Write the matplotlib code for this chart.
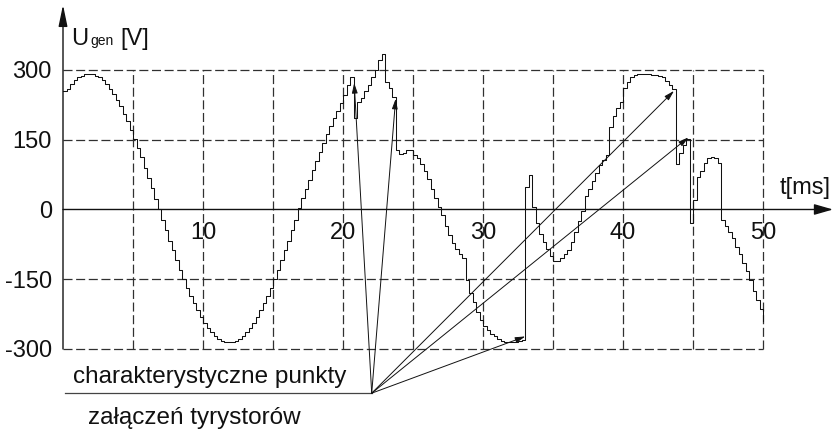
import numpy as np
import matplotlib
matplotlib.use("Agg")
import matplotlib.pyplot as plt

plt.rcParams["font.family"] = ["Liberation Sans", "DejaVu Sans"]
plt.rcParams["lines.scale_dashes"] = False

# generator voltage [V], one sample every 0.25 ms from 0 to 50 ms
T_STEP = 0.25
u_gen = [
    # 0 - 4.75 ms
    255, 260, 270, 278, 284, 288, 291, 292, 291, 288, 284, 278, 270, 260, 249, 236, 222, 206, 190, 172,
    # 5 - 9.75 ms
    152, 133, 112, 90, 68, 46, 23, 0, -22, -45, -67, -88, -109, -130, -149, -168, -186, -202, -217, -231,
    # 10 - 14.75 ms
    -244, -255, -264, -272, -278, -283, -285, -286, -285, -283, -278, -272, -264, -255, -244, -231, -217, -202, -186, -168,
    # 15 - 19.75 ms
    -149, -130, -109, -88, -67, -45, -22, 4, 24, 44, 64, 84, 104, 124, 143, 162, 180, 196, 212, 228,
    # 20 - 24.75 ms
    246, 268, 284, 196, 232, 240, 254, 268, 284, 300, 322, 334, 275, 262, 242, 128, 120, 121, 128, 128,
    # 25 - 29.75 ms
    118, 110, 98, 82, 66, 45, 25, 5, -12, -35, -55, -72, -85, -96, -104, -152, -180, -200, -220, -238,
    # 30 - 34.75 ms
    -250, -260, -267, -273, -278, -282, -284, -285, -285, -284, -283, -280, 48, 74, 5, -30, -52, -70, -86, -100,
    # 35 - 39.75 ms
    -110, -111, -105, -96, -88, -70, -48, -25, -3, 28, 45, 62, 78, 95, 106, 117, 178, 200, 218, 232,
    # 40 - 44.75 ms
    262, 275, 285, 290, 291, 291, 291, 291, 290, 289, 288, 285, 276, 268, 260, 98, 122, 138, 152, -28,
    # 45 - 50 ms
    20, 70, 82, 100, 111, 112, 111, 100, -22, -35, -48, -62, -80, -95, -115, -133, -152, -175, -195, -215, -240,
]

# thyristor firing points pointed at by the annotation arrows
fire_t = [20.8, 23.76, 33.02, 43.64, 44.67]
fire_u = [272, 238, -273, 255, 155]

x_ticks = [10, 20, 30, 40, 50]
y_ticks = [300, 150, 0, -150, -300]
x_grid = [5, 10, 15, 20, 25, 30, 35, 40, 45, 50]
y_grid = [-300, -150, 150, 300]

t_ms = np.arange(len(u_gen)) * T_STEP

fig = plt.figure(figsize=(8.34, 4.32), dpi=100)
ax = fig.add_axes([0, 0, 1, 1])
ax.set_xlim(-4.5, 55.07)
ax.set_ylim(-478.5, 450.5)
ax.axis("off")

ink = "#111111"
fs = 17
dash = (0, (6.5, 2.6))

# dashed grid
ax.vlines(x_grid, -300, 300, colors="#303030", linestyles=[dash], lw=0.9)
ax.hlines(y_grid, 0, 50, colors="#303030", linestyles=[dash], lw=0.9)

# axes with arrow heads
ax.annotate("", xy=(55.0, 0), xytext=(0, 0),
            arrowprops=dict(arrowstyle="-|>,head_length=1.15,head_width=0.33",
                            mutation_scale=10, lw=1.0, color=ink,
                            shrinkA=0, shrinkB=0))
ax.annotate("", xy=(0, 440), xytext=(0, -300),
            arrowprops=dict(arrowstyle="-|>,head_length=1.3,head_width=0.27",
                            mutation_scale=10, lw=1.0, color=ink,
                            shrinkA=0, shrinkB=0))

# tick labels
for v in y_ticks:
    ax.text(-0.79, v - 18, str(v), ha="right", va="baseline", fontsize=fs, color=ink)
for t in x_ticks:
    ax.text(t, -64.5, str(t), ha="center", va="baseline", fontsize=fs, color=ink)

# axis titles
ax.text(0.61, 353.8, "U", fontsize=fs, va="baseline", color=ink)
ax.text(1.95, 353.8, "gen", fontsize=10, va="baseline", color=ink)
ax.text(4.07, 353.8, "[V]", fontsize=fs, va="baseline", color=ink)
ax.text(51.21, 32.7, "t[ms]", fontsize=fs, va="baseline", color=ink)

# sampled waveform
ax.plot(t_ms, u_gen, drawstyle="steps-post", lw=0.75, color=ink)

# annotation: characteristic thyristor firing points
origin = (22.05, -395)
ax.plot([0.15, origin[0]], [origin[1], origin[1]], color="#444444", lw=0.9)
for tt, uu in zip(fire_t, fire_u):
    ax.annotate("", xy=(tt, uu), xytext=origin,
                arrowprops=dict(arrowstyle="-|>,head_length=0.6,head_width=0.17",
                                mutation_scale=10, lw=0.7, color=ink,
                                shrinkA=0, shrinkB=0))
ax.text(0.74, -372.5, "charakterystyczne punkty", fontsize=17.5, va="baseline", color=ink)
ax.text(1.81, -461.9, "załączeń tyrystorów", fontsize=17.5, va="baseline", color=ink)

fig.savefig("out.png", dpi=100)
